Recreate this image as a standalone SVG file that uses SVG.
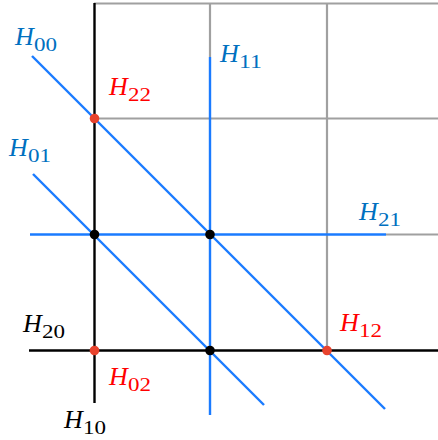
<svg xmlns="http://www.w3.org/2000/svg" width="438" height="440" viewBox="0 0 438 440">
<style>
.g{stroke:#a0a0a0;stroke-width:2.2;fill:none}
.k{stroke:#000;stroke-width:2.4;fill:none}
.b{stroke:#1a7bff;stroke-width:2.4;fill:none}
.dk{fill:#000}
.dr{fill:#e8432d}
text{font-family:"Liberation Serif","Times New Roman",serif}
.h{font-size:26px;font-style:italic}
.s{font-size:19px}
.tb{fill:#0070c0}
.tr{fill:#ff0000}
.tk{fill:#000}
</style>
<rect width="438" height="440" fill="#fff"/>
<g id="connectors">
  <line class="g" x1="94" y1="3.5" x2="438" y2="3.5"/>
  <line class="g" x1="94" y1="118.5" x2="438" y2="118.5"/>
  <line class="g" x1="386" y1="234.5" x2="438" y2="234.5"/>
  <line class="g" x1="210" y1="3" x2="210" y2="57"/>
  <line class="g" x1="327" y1="3" x2="327" y2="350"/>
  <line class="k" x1="94.5" y1="3" x2="94.5" y2="403"/>
  <line class="k" x1="29" y1="350.5" x2="438" y2="350.5"/>
  <line class="b" x1="210" y1="57" x2="210" y2="415"/>
  <line class="b" x1="30" y1="234.5" x2="386" y2="234.5"/>
  <line class="b" x1="32" y1="56" x2="385" y2="409"/>
  <line class="b" x1="33" y1="174" x2="264" y2="405"/>
</g>
<g id="H00"><text class="tb" x="15" y="45"><tspan class="h">H</tspan><tspan class="s" x="34" y="51" textLength="23" lengthAdjust="spacingAndGlyphs">00</tspan></text></g>
<g id="H01"><text class="tb" x="9" y="156"><tspan class="h">H</tspan><tspan class="s" x="28" y="162" textLength="23" lengthAdjust="spacingAndGlyphs">01</tspan></text></g>
<g id="H11"><text class="tb" x="220" y="62"><tspan class="h">H</tspan><tspan class="s" x="239" y="68" textLength="23" lengthAdjust="spacingAndGlyphs">11</tspan></text></g>
<g id="H21"><text class="tb" x="359" y="220"><tspan class="h">H</tspan><tspan class="s" x="378" y="226" textLength="23" lengthAdjust="spacingAndGlyphs">21</tspan></text></g>
<g id="H22"><circle class="dr" cx="94.5" cy="118.5" r="4.8"/><text class="tr" x="109" y="95"><tspan class="h">H</tspan><tspan class="s" x="128" y="101" textLength="23" lengthAdjust="spacingAndGlyphs">22</tspan></text></g>
<g id="H20"><text class="tk" x="23" y="332"><tspan class="h">H</tspan><tspan class="s" x="42" y="338" textLength="23" lengthAdjust="spacingAndGlyphs">20</tspan></text></g>
<g id="H10"><text class="tk" x="64" y="428"><tspan class="h">H</tspan><tspan class="s" x="83" y="434" textLength="23" lengthAdjust="spacingAndGlyphs">10</tspan></text></g>
<g id="H02"><circle class="dr" cx="94.5" cy="350.5" r="4.8"/><text class="tr" x="109" y="385"><tspan class="h">H</tspan><tspan class="s" x="128" y="391" textLength="23" lengthAdjust="spacingAndGlyphs">02</tspan></text></g>
<g id="H12"><circle class="dr" cx="327" cy="350.5" r="4.8"/><text class="tr" x="340" y="331"><tspan class="h">H</tspan><tspan class="s" x="359" y="337" textLength="23" lengthAdjust="spacingAndGlyphs">12</tspan></text></g>
<g id="dots">
  <circle class="dk" cx="94.5" cy="234.5" r="4.8"/>
  <circle class="dk" cx="210" cy="234.5" r="4.8"/>
  <circle class="dk" cx="210" cy="350.5" r="4.8"/>
</g>
</svg>
